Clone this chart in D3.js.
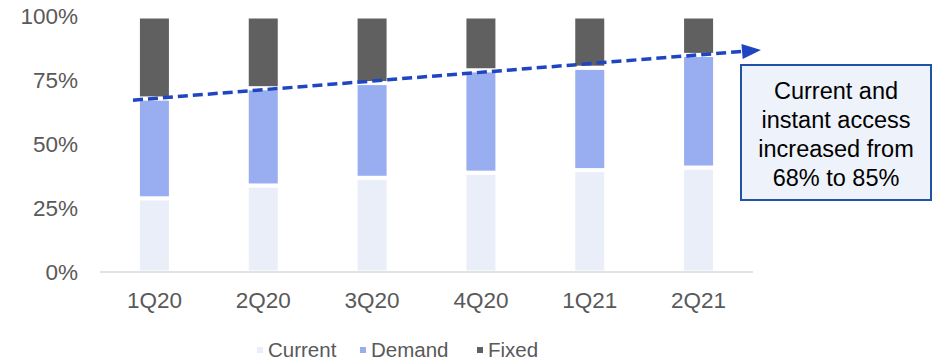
<!DOCTYPE html>
<html>
<head>
<meta charset="utf-8">
<script src="https://cdn.jsdelivr.net/npm/d3@7"></script>
<style>
  html, body { margin: 0; padding: 0; background: #fff; }
  svg { display: block; font-family: "Liberation Sans", Arial, sans-serif; }
</style>
</head>
<body>
<svg id="chart" width="939" height="362"></svg>
<script>
// Quarterly deposit mix (% of total)
const quarters = ["1Q20", "2Q20", "3Q20", "4Q20", "1Q21", "2Q21"];
const currentPct = [29, 34, 37, 39, 40, 41];
const demandPct  = [39, 38, 37, 40, 40, 44];
const fixedPct   = [32, 28, 26, 21, 20, 15];
const seriesNames = ["Current", "Demand", "Fixed"];
const seriesColors = ["#e9eef8", "#98aef0", "#606060"];
const yTicks = [0, 25, 50, 75, 100];
// Current + demand share, first and last quarter
const trendStart = 68;
const trendEnd = 85;
const noteLines = ["Current and", "instant access", "increased from", "68% to 85%"];

const svg = d3.select("#chart");

const x = d3.scaleBand().domain(quarters).range([100, 753]).padding(0);
const y = d3.scaleLinear().domain([0, 100]).range([272.5, 16.5]);
const cx = q => x(q) + x.bandwidth() / 2;
const barW = 33;

// stacked data
const rows = quarters.map((q, i) => ({ q, Current: currentPct[i], Demand: demandPct[i], Fixed: fixedPct[i] }));
const stacked = d3.stack().keys(seriesNames)(rows);

// y tick labels
svg.append("g").selectAll("text").data(yTicks).join("text")
  .attr("x", 78).attr("y", d => y(d))
  .attr("dy", "0.35em")
  .attr("text-anchor", "end")
  .attr("font-size", 22.5)
  .attr("fill", "#595959")
  .text(d => d + "%");

// bars
svg.append("g").selectAll("g").data(stacked).join("g")
  .attr("fill", (d, i) => seriesColors[i])
  .selectAll("rect").data(d => d).join("rect")
  .attr("x", d => cx(d.data.q) - barW / 2)
  .attr("width", barW)
  .attr("y", d => y(d[1]))
  .attr("height", d => y(d[0]) - y(d[1]))
  .attr("stroke", "#fff")
  .attr("stroke-width", 4);

// baseline
svg.append("line")
  .attr("x1", x.range()[0]).attr("x2", x.range()[1])
  .attr("y1", 272).attr("y2", 272)
  .attr("stroke", "#d9d9d9").attr("stroke-width", 1.5);

// x labels
svg.append("g").selectAll("text").data(quarters).join("text")
  .attr("x", d => cx(d)).attr("y", 300.5)
  .attr("dy", "0.35em")
  .attr("text-anchor", "middle")
  .attr("font-size", 22.5)
  .attr("fill", "#595959")
  .text(d => d);

// trend arrow through first and last quarter shares
const p0 = [cx(quarters[0]), y(trendStart)];
const p1 = [cx(quarters[quarters.length - 1]), y(trendEnd)];
const slope = (p1[1] - p0[1]) / (p1[0] - p0[0]);
const xs = x(quarters[0]) + 33;
const xe = x.range()[1] + 8;
const at = xx => p0[1] + slope * (xx - p0[0]);
const headLen = 19, headHalf = 7.5;
const ang = Math.atan(slope);
const tip = [xe, at(xe)];
const baseC = [tip[0] - headLen * Math.cos(ang), tip[1] - headLen * Math.sin(ang)];
svg.append("line")
  .attr("x1", xs).attr("y1", at(xs))
  .attr("x2", baseC[0]).attr("y2", baseC[1])
  .attr("stroke", "#1f45c0").attr("stroke-width", 3.5)
  .attr("stroke-dasharray", "10,5");
const nx = -Math.sin(ang), ny = Math.cos(ang);
svg.append("path")
  .attr("d", d3.line()([
    tip,
    [baseC[0] + nx * headHalf, baseC[1] + ny * headHalf],
    [baseC[0] - nx * headHalf, baseC[1] - ny * headHalf]
  ]) + "Z")
  .attr("fill", "#1f45c0");

// note box
const box = svg.append("g");
box.append("rect")
  .attr("x", 741).attr("y", 65).attr("width", 190).attr("height", 135)
  .attr("fill", "#eef2fa").attr("stroke", "#2053a6").attr("stroke-width", 2);
box.selectAll("text").data(noteLines).join("text")
  .attr("x", 836).attr("y", (d, i) => 91 + i * 29)
  .attr("dy", "0.35em")
  .attr("text-anchor", "middle")
  .attr("font-size", 23.5)
  .attr("fill", "#000")
  .text(d => d);

// legend
const legendX = [257, 360, 477];
const leg = svg.append("g").selectAll("g").data(seriesNames).join("g")
  .attr("transform", (d, i) => `translate(${legendX[i]},350)`);
leg.append("rect")
  .attr("x", 0).attr("y", -3).attr("width", 6).attr("height", 6)
  .attr("fill", (d, i) => seriesColors[i]);
leg.append("text")
  .attr("x", 11).attr("y", 0).attr("dy", "0.35em")
  .attr("font-size", 20.5)
  .attr("fill", "#595959")
  .text(d => d);
</script>
</body>
</html>
